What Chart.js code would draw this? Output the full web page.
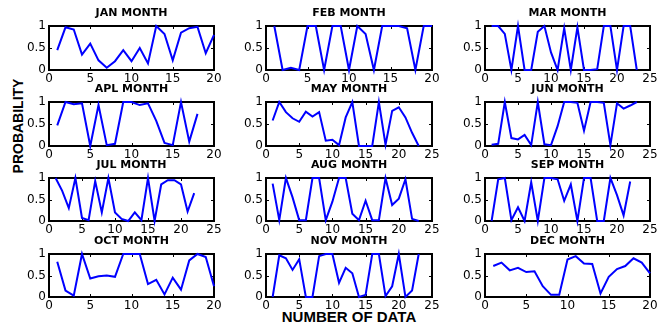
<!DOCTYPE html>
<html>
<head>
<meta charset="utf-8">
<script src="https://cdn.jsdelivr.net/npm/chart.js@4.4.1/dist/chart.umd.min.js"></script>
<style>
  body { margin: 0; background: #fff; width: 659px; height: 330px; position: relative; overflow: hidden; }
  canvas { position: absolute; }
  .axlab { position: absolute; font-family: "Liberation Sans", Arial, sans-serif; font-weight: bold; color: #000; text-align: center; white-space: nowrap; }
  #ylab { left: -42px; top: 118px; width: 120px; height: 16px; line-height: 16px; font-size: 14px; transform: rotate(-90deg); }
  #xlab { left: 249px; top: 308px; width: 200px; height: 18px; line-height: 18px; font-size: 15px; }
</style>
</head>
<body>
<div id="ylab" class="axlab">PROBABILITY</div>
<div id="xlab" class="axlab">NUMBER OF DATA</div>
<script>
const monthTitles = ["JAN MONTH", "FEB MONTH", "MAR MONTH", "APL MONTH", "MAY MONTH", "JUN MONTH",
  "JUL MONTH", "AUG MONTH", "SEP MONTH", "OCT MONTH", "NOV MONTH", "DEC MONTH"];
const xMax = [20, 20, 25, 20, 25, 25, 25, 25, 25, 20, 25, 20];

const jan = [0.45, 0.97, 0.92, 0.35, 0.6, 0.22, 0.05, 0.2, 0.45, 0.2, 0.5, 0.15, 1.0, 0.82, 0.22, 0.85, 0.95, 0.98, 0.38, 0.8];
const feb = [1, 0, 0.05, 0, 1, 1, 0, 1, 1, 0, 1, 0.82, 0, 1, 1, 1, 0.95, 0, 1, 1];
const mar = [1, 1, 0.82, 0, 1, 0, 0, 0.87, 1, 0.4, 0, 0.95, 0, 0.97, 0, 0, 0.02, 1, 1, 0, 1, 1, 0];
const apl = [0.47, 1.0, 0.95, 0.97, 0, 0.93, 0.02, 0.05, 1, 1, 0.93, 0.97, 0.57, 0.07, 0.02, 1, 0.1, 0.73];
const may = [0.58, 1.0, 0.77, 0.63, 0.55, 0.78, 0.67, 0.77, 0.12, 0.14, 0.02, 0.65, 1.0, 0, 0, 0, 1.0, 0.03, 0.8, 0.88, 0.65, 0.3, 0];
const jun = [0.03, 0.05, 1.0, 0.18, 0.15, 0.25, 0.02, 1.0, 0.04, 0.02, 0.45, 1.0, 1.0, 0.98, 0.35, 1.0, 1.0, 0.98, 0.02, 0.97, 0.85, 0.92, 1.0];
const jul = [1.0, 0.7, 0.3, 1.0, 0.07, 0.02, 0.93, 0.2, 1.0, 0.2, 0.05, 0.0, 0.2, 0.02, 1.0, 0.0, 0.85, 0.95, 0.95, 0.85, 0.22, 0.65];
const aug = [0.87, 0.02, 1.0, 0.55, 0.02, 0.02, 1.0, 1.0, 0.02, 0.45, 1.0, 1.0, 0.17, 0.02, 0.47, 0.02, 0.02, 1.0, 0.37, 0.52, 0.97, 0.05, 0.0];
const sep = [0, 0.97, 1.0, 0.02, 0.32, 0.0, 0.9, 0.0, 1.0, 1.0, 0.97, 0.47, 0.85, 0.0, 1.0, 1.0, 0.0, 0.0, 1.0, 0.6, 0.13, 0.92];
const oct = [0.82, 0.15, 0.03, 1.0, 0.43, 0.48, 0.5, 0.47, 1.0, 1.0, 1.0, 0.3, 0.4, 0.06, 0.45, 0.17, 0.85, 1.0, 0.93, 0.25];
const nov = [0, 0.97, 0.9, 0.63, 0.88, 0, 0, 0.95, 1.0, 1.0, 0.33, 0.68, 0.55, 0, 0.05, 1.0, 1.0, 0.02, 0.25, 1.0, 0.0, 0.15, 1.0];
const dec = [0.72, 0.8, 0.62, 0.68, 0.58, 0.6, 0.25, 0.05, 0.05, 0.87, 0.95, 0.78, 0.77, 0.08, 0.47, 0.65, 0.72, 0.9, 0.8, 0.55];
const allMonths = [jan, feb, mar, apl, may, jun, jul, aug, sep, oct, nov, dec];

// plot area edges in page pixels
const colLeft = [49, 266, 485];
const colRight = [214, 432, 650];
const rowTop = [26, 102, 178, 254];
const rowBottom = [70, 146, 221, 297];

const yAxisW = 30, xAxisH = 18, titleH = 18, padRight = 12;

// black box with small inward ticks, matlab style
const frameBox = {
  id: "frameBox",
  beforeDatasetsDraw(chart) {
    const { ctx, chartArea: { left, top, right, bottom }, scales: { x, y } } = chart;
    ctx.save();
    ctx.strokeStyle = "#000";
    ctx.lineWidth = 1;
    ctx.beginPath();
    x.ticks.forEach(t => {
      const px = Math.round(x.getPixelForValue(t.value)) + 0.5;
      ctx.moveTo(px, bottom); ctx.lineTo(px, bottom - 3);
      ctx.moveTo(px, top); ctx.lineTo(px, top + 3);
    });
    y.ticks.forEach(t => {
      const py = Math.round(y.getPixelForValue(t.value)) + 0.5;
      ctx.moveTo(left, py); ctx.lineTo(left + 3, py);
      ctx.moveTo(right, py); ctx.lineTo(right - 3, py);
    });
    ctx.stroke();
    ctx.lineWidth = 2;
    ctx.strokeRect(left, top, right - left, bottom - top);
    ctx.restore();
  }
};

function makePanel(i) {
  const r = Math.floor(i / 3), c = i % 3;
  const cv = document.createElement("canvas");
  const w = yAxisW + (colRight[c] - colLeft[c]) + padRight;
  const h = titleH + (rowBottom[r] - rowTop[r]) + xAxisH;
  cv.width = w;
  cv.height = h;
  cv.style.left = (colLeft[c] - yAxisW) + "px";
  cv.style.top = (rowTop[r] - titleH) + "px";
  document.body.appendChild(cv);

  const points = allMonths[i].map((v, k) => ({ x: k + 1, y: v }));

  new Chart(cv, {
    type: "line",
    data: {
      datasets: [{
        data: points,
        borderColor: "#0000ff",
        borderWidth: 2,
        pointRadius: 0,
        tension: 0,
        fill: false,
        clip: false
      }]
    },
    options: {
      responsive: false,
      animation: false,
      devicePixelRatio: 1,
      layout: { padding: { left: 0, right: padRight, top: 0, bottom: 0 } },
      plugins: {
        legend: { display: false },
        tooltip: { enabled: false },
        title: {
          display: true,
          fullSize: false,
          text: monthTitles[i],
          color: "#000",
          font: { family: "DejaVu Sans", size: 11, weight: "bold", lineHeight: 1 },
          padding: { top: 0, bottom: 7 }
        }
      },
      scales: {
        x: {
          type: "linear",
          min: 0,
          max: xMax[i],
          afterFit(s) { s.height = xAxisH; },
          grid: { display: false, drawTicks: false },
          border: { display: false },
          ticks: { stepSize: 5, padding: 2, color: "#000", maxRotation: 0, font: { family: "DejaVu Sans", size: 12 } }
        },
        y: {
          min: 0,
          max: 1,
          afterFit(s) { s.width = yAxisW; },
          grid: { display: false, drawTicks: false },
          border: { display: false },
          ticks: {
            stepSize: 0.5, padding: 3, color: "#000",
            font: { family: "DejaVu Sans", size: 12 },
            callback: v => String(v)
          }
        }
      }
    },
    plugins: [frameBox]
  });
}

for (let i = 0; i < 12; i++) makePanel(i);
</script>
</body>
</html>
